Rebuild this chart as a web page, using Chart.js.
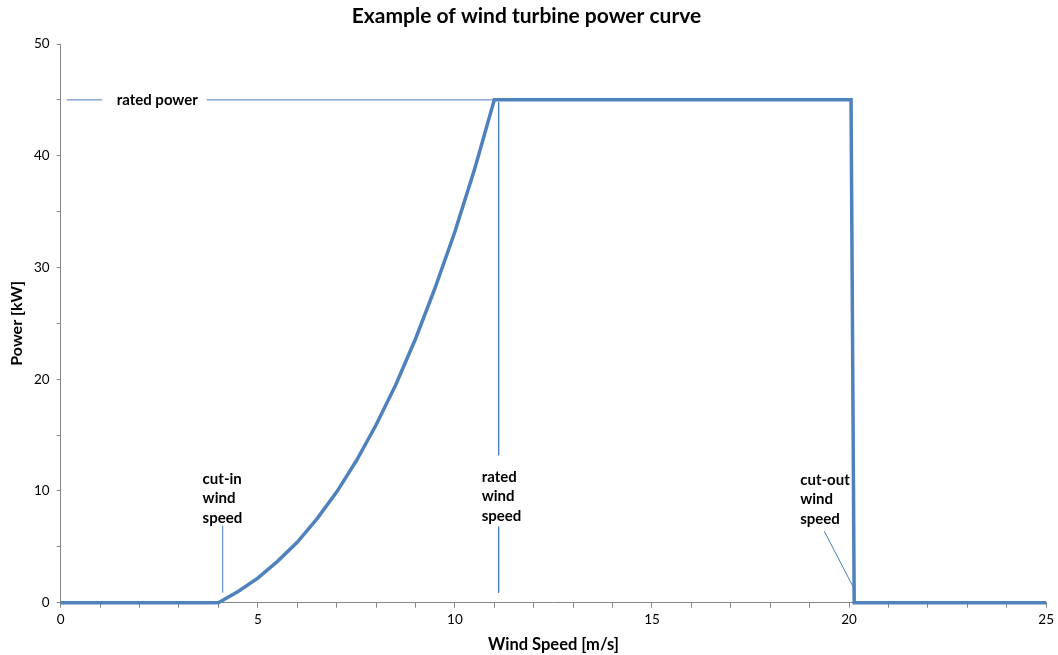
<!DOCTYPE html>
<html>
<head>
<meta charset="utf-8">
<script src="https://cdn.jsdelivr.net/npm/chart.js@4/dist/chart.umd.min.js"></script>
<style>
  body { margin: 0; background: #fff; }
  #wrap { width: 1058px; height: 655px; }
</style>
</head>
<body>
<div id="wrap"><canvas id="powerCurve"></canvas></div>
<script>
// power curve
const windSpeed = [0, 4, 4.5, 5, 5.5, 6, 6.5, 7, 7.5, 8, 8.5, 9, 9.5, 10, 10.5, 11, 20.05, 20.13, 25];
const power     = [0, 0, 1.0, 2.2, 3.7, 5.4, 7.5, 9.9, 12.7, 15.9, 19.5, 23.6, 28.2, 33.2, 38.8, 45, 45, 0, 0];

// thin pointer lines (x values, y values)
const ratedPowerLeftX = [0.15, 1.05],  ratedPowerLeftY = [45, 45];
const ratedPowerRightX = [3.7, 11.0],  ratedPowerRightY = [45, 45];
const cutInX = [4.11, 4.11],           cutInY = [0.9, 6.9];
const ratedSpeedTopX = [11.11, 11.11], ratedSpeedTopY = [44.8, 13.2];
const ratedSpeedLowX = [11.11, 11.11], ratedSpeedLowY = [6.8, 0.9];
const cutOutX = [19.37, 20.15],        cutOutY = [6.4, 1.1];

// note texts: anchor x, y of first line
const noteTexts = [['rated power'], ['cut-in', 'wind', 'speed'], ['rated', 'wind', 'speed'], ['cut-out', 'wind', 'speed']];
const noteX = [2.45, 3.6, 10.68, 18.76];
const noteY = [45, 11.1, 11.25, 11.0];

const pts = (xs, ys) => xs.map((v, i) => ({x: v, y: ys[i]}));
const thin = (xs, ys) => ({data: pts(xs, ys), borderColor: '#4A7EBB', borderWidth: 1, pointRadius: 0, showLine: true});

const notesPlugin = {
    id: 'notes',
    afterDatasetsDraw(chart) {
        const {ctx, scales: {x, y}} = chart;
        ctx.save();
        ctx.font = 'bold 15px Lato';
        ctx.fillStyle = '#000';
        ctx.textBaseline = 'middle';
        noteTexts.forEach((lines, n) => {
            const px = x.getPixelForValue(noteX[n]);
            const py = y.getPixelForValue(noteY[n]);
            ctx.textAlign = n === 0 ? 'center' : 'left';
            lines.forEach((t, i) => ctx.fillText(t, px, py + i * 19.5));
        });
        ctx.restore();
    }
};

const axisGrey = '#868686';

new Chart(document.getElementById('powerCurve'), {
    type: 'scatter',
    data: {
        datasets: [
            thin(ratedPowerLeftX, ratedPowerLeftY),
            thin(ratedPowerRightX, ratedPowerRightY),
            thin(cutInX, cutInY),
            thin(ratedSpeedTopX, ratedSpeedTopY),
            thin(ratedSpeedLowX, ratedSpeedLowY),
            thin(cutOutX, cutOutY),
            {
                data: pts(windSpeed, power),
                borderColor: '#4F81BD',
                borderWidth: 3.5,
                pointRadius: 0,
                showLine: true,
                clip: false
            }
        ]
    },
    options: {
        responsive: true,
        maintainAspectRatio: false,
        animation: false,
        layout: { padding: { left: 0, right: 5, top: 0, bottom: 0 } },
        plugins: {
            legend: { display: false },
            tooltip: { enabled: false },
            title: {
                display: true,
                text: 'Example of wind turbine power curve',
                color: '#000',
                font: { family: 'Lato', size: 21, weight: 'bold' },
                padding: { top: 3.4, bottom: 15.4 }
            }
        },
        scales: {
            x: {
                type: 'linear',
                min: 0, max: 25,
                afterFit: s => { s.height = 52.3; },
                border: { color: axisGrey },
                grid: { drawOnChartArea: false, tickLength: 5, color: axisGrey },
                ticks: {
                    stepSize: 1, autoSkip: false, maxRotation: 0, padding: 4,
                    color: '#000', font: { family: 'Lato', size: 13.5 },
                    callback: v => v % 5 === 0 ? v : ''
                },
                title: {
                    display: true, text: 'Wind Speed [m/s]', color: '#000',
                    font: { family: 'Lato', size: 16.5, weight: 'bold' },
                    padding: { top: 0, bottom: 0.1 }
                }
            },
            y: {
                min: 0, max: 50,
                afterFit: s => { s.width = 60.7; },
                border: { color: axisGrey },
                grid: { drawOnChartArea: false, tickLength: 4, color: axisGrey },
                ticks: {
                    stepSize: 5, padding: 7,
                    color: '#000', font: { family: 'Lato', size: 13.5 },
                    callback: v => v % 10 === 0 ? v : ''
                },
                title: {
                    display: true, text: 'Power [kW]', color: '#000',
                    font: { family: 'Lato', size: 16, weight: 'bold' },
                    padding: { top: 7.1, bottom: 0 }
                }
            }
        }
    },
    plugins: [notesPlugin]
});
</script>
</body>
</html>
